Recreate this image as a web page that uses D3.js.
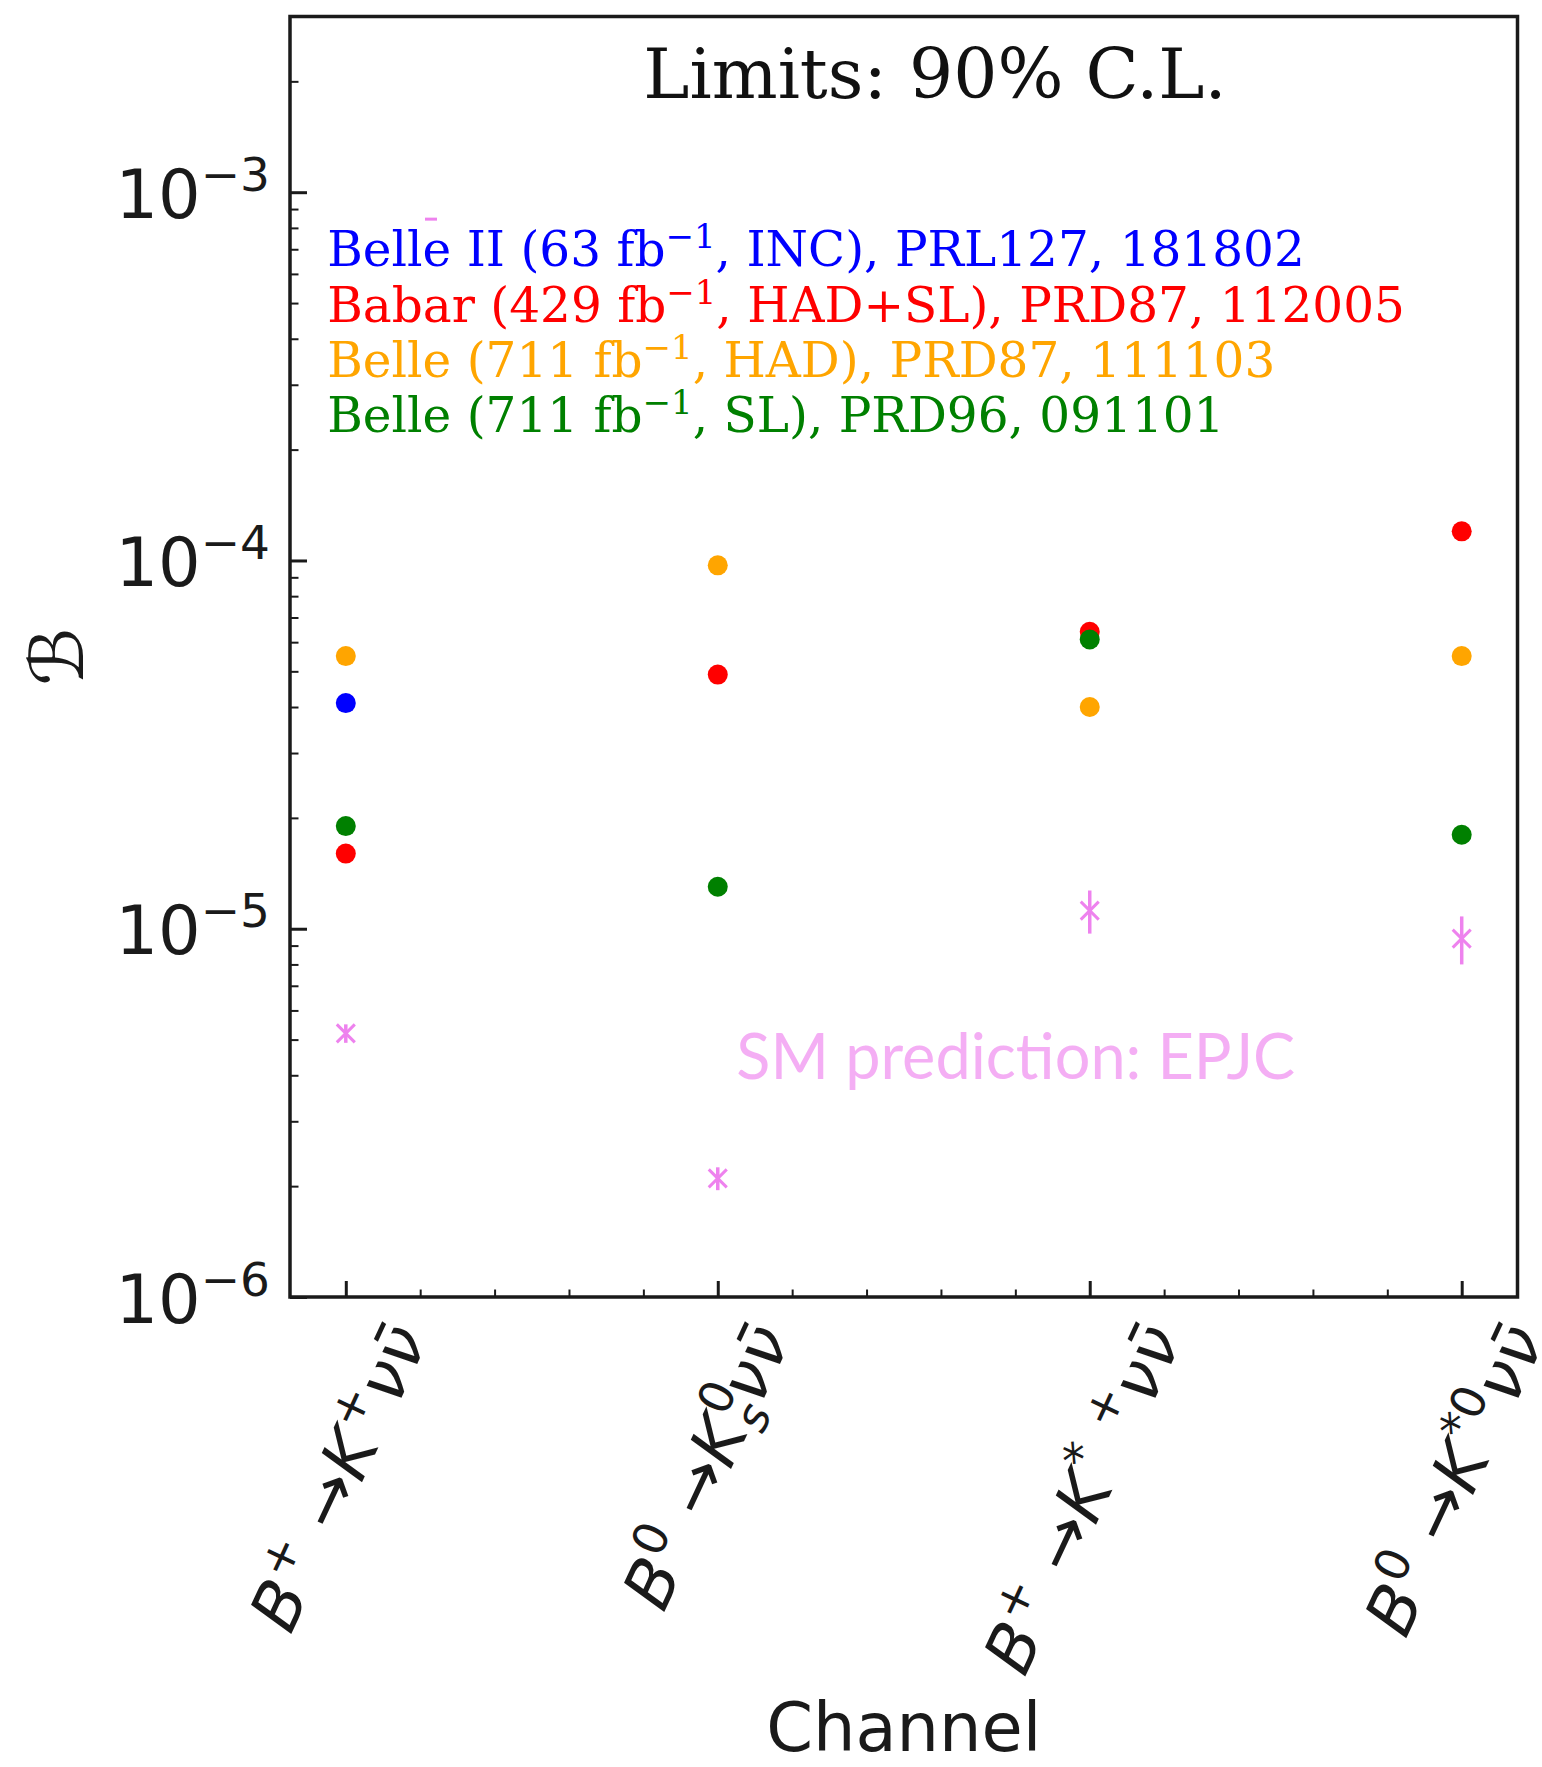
<!DOCTYPE html>
<html><head><meta charset="utf-8">
<script src="https://cdn.jsdelivr.net/npm/d3@7"></script>
<style>html,body{margin:0;padding:0;background:#fff;} svg{display:block;}</style>
</head><body><svg id="chart" width="1542" height="1767"></svg>
<script>
// ---------- data ----------
const categories = ["B+→K+νν̄", "B0→K0Sνν̄", "B+→K*+νν̄", "B0→K*0νν̄"];
const belle2Inc = [4.1e-5, null, null, null];
const babar     = [1.6e-5, 4.9e-5, 6.4e-5, 1.2e-4];
const belleHad  = [5.5e-5, 9.7e-5, 4.0e-5, 5.5e-5];
const belleSl   = [1.9e-5, 1.3e-5, 6.1e-5, 1.8e-5];
const smValue   = [5.2e-6, 2.1e-6, 1.12e-5, 9.4e-6];
const smError   = [0.3e-6, 0.15e-6, 1.5e-6, 1.4e-6];
const yTickValues = [1e-6, 1e-5, 1e-4, 1e-3];
const yTickExponents = ["−6", "−5", "−4", "−3"];
const legendTexts = [
  ["Belle II (63 fb", "−1", ", INC), PRL127, 181802"],
  ["Babar (429 fb", "−1", ", HAD+SL), PRD87, 112005"],
  ["Belle (711 fb", "−1", ", HAD), PRD87, 111103"],
  ["Belle (711 fb", "−1", ", SL), PRD96, 091101"]
];
const legendY = [6.3e-4, 4.45e-4, 3.15e-4, 2.23e-4];
const seriesList = [belle2Inc, babar, belleHad, belleSl];
const seriesColors = ["#0000ff", "#ff0000", "#ffa500", "#008000"];
// tick label parts (math-style)
const tickLabelParts = [
  [{t:"B",k:"it"},{t:"+",k:"sup"},{t:"→",k:"rel"},{t:"K",k:"it"},{t:"+",k:"sup"},{t:"νν̄",k:"it"}],
  [{t:"B",k:"it"},{t:"0",k:"sup"},{t:"→",k:"rel"},{t:"K",k:"it"},{t:"0",k:"supsub",s:"s"},{t:"νν̄",k:"it"}],
  [{t:"B",k:"it"},{t:"+",k:"sup"},{t:"→",k:"rel"},{t:"K",k:"it"},{t:"*\u2002+",k:"sup"},{t:"νν̄",k:"it"}],
  [{t:"B",k:"it"},{t:"0",k:"sup"},{t:"→",k:"rel"},{t:"K",k:"it"},{t:"*0",k:"sup"},{t:"νν̄",k:"it"}]
];

// ---------- layout ----------
const ink = "#1a1a1a";
const violet = "#ee82ee";
const svg = d3.select("#chart");
const x = d3.scaleLinear().domain([-0.15, 3.15]).range([290, 1517.5]);
const y = d3.scaleLog().domain([1e-6, 3e-3]).range([1297, 16.5]);
const [X0, X1] = x.range(); const [Y0, Y1] = y.range();

// minor ticks
const yMinor = [];
for (let e = -6; e <= -3; e++) for (let m = 2; m <= 9; m++) {
  const v = m * Math.pow(10, e); if (v <= 3.0001e-3) yMinor.push(v);
}
const xMajor = [0, 1, 2, 3];
const xMinor = d3.range(0, 16).map(i => +(i * 0.2).toFixed(2)).filter(v => v <= 3 && Math.abs(v - Math.round(v)) > 1e-6);

function styleAxis(g, w) {
  g.select(".domain").remove();
  g.selectAll(".tick line").attr("stroke", ink).attr("stroke-width", w);
  g.selectAll(".tick text").remove();
}
svg.append("g").attr("transform", `translate(${X0},0)`)
  .call(d3.axisLeft(y).tickValues(yMinor).tickSize(-8.5).tickFormat(""))
  .call(g => styleAxis(g, 2));
svg.append("g").attr("transform", `translate(${X0},0)`)
  .call(d3.axisLeft(y).tickValues(yTickValues).tickSize(-17).tickFormat(""))
  .call(g => styleAxis(g, 3));
svg.append("g").attr("transform", `translate(0,${Y0})`)
  .call(d3.axisBottom(x).tickValues(xMinor).tickSize(-7.5).tickFormat(""))
  .call(g => styleAxis(g, 2));
svg.append("g").attr("transform", `translate(0,${Y0})`)
  .call(d3.axisBottom(x).tickValues(xMajor).tickSize(-16).tickFormat(""))
  .call(g => styleAxis(g, 3));

// frame
svg.append("rect").attr("x", X0).attr("y", Y1).attr("width", X1 - X0).attr("height", Y0 - Y1)
  .attr("fill", "none").attr("stroke", ink).attr("stroke-width", 3.5);

// y tick labels
yTickValues.forEach((v, i) => {
  const t = svg.append("text").attr("x", 270).attr("y", y(v) + 25.5)
    .attr("text-anchor", "end").attr("font-family", "DejaVu Sans").attr("font-size", 67).attr("fill", ink);
  t.append("tspan").text("10");
  t.append("tspan").attr("font-size", 47).attr("dy", -27).text(yTickExponents[i]);
});

// y axis label
svg.append("text").attr("transform", `translate(83,${(Y0 + Y1) / 2}) rotate(-90)`)
  .attr("text-anchor", "middle").attr("font-family", "DejaVu Serif, DejaVu Sans").attr("font-size", 74).attr("fill", ink)
  .text("ℬ");

// x axis label
svg.append("text").attr("x", (X0 + X1) / 2).attr("y", 1751).attr("text-anchor", "middle")
  .attr("font-family", "DejaVu Sans").attr("font-size", 67).attr("fill", ink).text("Channel");

// x tick labels (rotated)
const ANG = -65, FS = 67, SUP = 0.7 * FS, RISE = 27, DROP = 14;
tickLabelParts.forEach((parts, i) => {
  const g = svg.append("g");
  const t = g.append("text").attr("font-family", "DejaVu Sans").attr("font-size", FS).attr("fill", ink)
    .attr("transform", `rotate(${ANG})`).attr("xml:space", "preserve");
  let shift = 0;
  parts.forEach(p => {
    if (p.k === "it") {
      t.append("tspan").attr("font-style", "italic").attr("dy", -shift).text(p.t); shift = 0;
    } else if (p.k === "rel") {
      t.append("tspan").attr("dy", -shift).attr("dx", 24).text(p.t); shift = 0;
      t.append("tspan").attr("dx", 22).text("");
    } else if (p.k === "sup") {
      t.append("tspan").attr("font-size", SUP).attr("dx", 2).attr("dy", -RISE - shift).text(p.t); shift = -RISE;
    } else if (p.k === "supsub") {
      const s1 = t.append("tspan").attr("font-size", SUP).attr("dx", 2).attr("dy", -RISE - shift).text(p.t);
      const l1 = s1.node().getComputedTextLength();
      const s2 = t.append("tspan").attr("font-size", SUP).attr("font-style", "italic")
        .attr("dx", -l1).attr("dy", RISE + DROP).text(p.s);
      const l2 = s2.node().getComputedTextLength();
      t.append("tspan").attr("dx", Math.max(0, l1 - l2)).text("");
      shift = DROP;
    }
  });
  const bb = t.node().getBBox();
  const a = ANG * Math.PI / 180;
  const pts = [[bb.x, bb.y], [bb.x + bb.width, bb.y], [bb.x, bb.y + bb.height], [bb.x + bb.width, bb.y + bb.height]]
    .map(([px, py]) => [px * Math.cos(a) - py * Math.sin(a), px * Math.sin(a) + py * Math.cos(a)]);
  const minX = d3.min(pts, d => d[0]), maxX = d3.max(pts, d => d[0]), minY = d3.min(pts, d => d[1]);
  g.attr("transform", `translate(${x(i) - 11 - (minX + maxX) / 2},${Y0 + 12 - minY})`);
});

// title
svg.append("text").attr("x", x(0.8)).attr("y", y(1.8e-3)).attr("font-family", "DejaVu Serif")
  .attr("font-size", 69.5).attr("fill", "#111").text("Limits: 90% C.L.");

// legend-like texts
legendTexts.forEach((parts, i) => {
  const t = svg.append("text").attr("x", x(-0.05)).attr("y", y(legendY[i]))
    .attr("font-family", "DejaVu Serif").attr("font-size", 48.5).attr("fill", seriesColors[i]);
  t.append("tspan").text(parts[0]);
  t.append("tspan").attr("font-size", 34).attr("dy", -18).text(parts[1]);
  t.append("tspan").attr("dy", 18).text(parts[2]);
});

// tiny violet dash
svg.append("line").attr("x1", x(0.229) - 6).attr("x2", x(0.229) + 6)
  .attr("y1", y(8.45e-4)).attr("y2", y(8.45e-4)).attr("stroke", violet).attr("stroke-width", 3);

// SM text
svg.append("text").attr("x", x(1.05)).attr("y", y(3.9e-6)).attr("font-family", "Lato")
  .attr("font-size", 63).attr("fill", violet).attr("fill-opacity", 0.65).text("SM prediction: EPJC");

// data points
seriesList.forEach((vals, si) => {
  svg.append("g").selectAll("circle")
    .data(vals.map((v, i) => ({ v, i })).filter(d => d.v != null))
    .join("circle").attr("cx", d => x(d.i)).attr("cy", d => y(d.v)).attr("r", 10)
    .attr("fill", seriesColors[si]);
});

// SM predictions with error bars + x markers
const sm = svg.append("g").attr("stroke", violet);
smValue.forEach((v, i) => {
  const cx = x(i), cy = y(v), m = 9;
  sm.append("line").attr("x1", cx).attr("x2", cx).attr("y1", y(v + smError[i])).attr("y2", y(v - smError[i]))
    .attr("stroke-width", 3.5);
  sm.append("line").attr("x1", cx - m).attr("x2", cx + m).attr("y1", cy - m).attr("y2", cy + m).attr("stroke-width", 3);
  sm.append("line").attr("x1", cx - m).attr("x2", cx + m).attr("y1", cy + m).attr("y2", cy - m).attr("stroke-width", 3);
});
</script></body></html>
